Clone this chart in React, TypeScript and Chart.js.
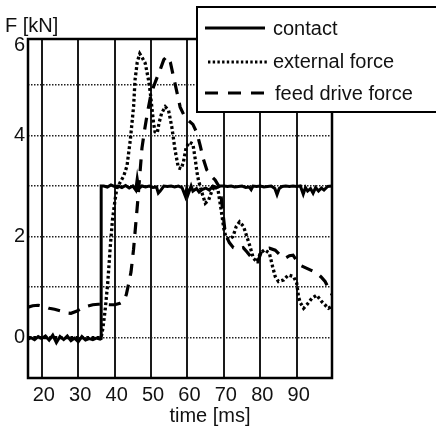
import React, { useEffect, useRef } from "react";
import { Chart, registerables } from "chart.js";

Chart.register(...registerables);

// ---- data ----
const contactTime = [16.2, 17, 18, 19, 20, 21, 22, 23, 24, 25, 26, 27, 28, 29, 30, 31, 32, 33, 34, 35, 36, 36.3, 36.3, 37, 38, 39, 40, 41, 42, 43, 44, 45, 45.8, 46.2, 46.6, 47.5, 48.5, 49.5, 50.5, 51.5, 52, 52.5, 53.5, 54.5, 55.5, 56.5, 57.5, 58.5, 59.4, 59.8, 60.2, 61, 61.5, 62.5, 63.2, 64, 65, 66, 67, 68, 69, 70, 71, 72, 73, 74, 75, 76, 77, 77.5, 78, 79, 80, 81, 82, 83, 84, 84.6, 85.2, 86, 87, 88, 89, 90, 91, 91.8, 92.4, 93, 93.8, 94.5, 95.2, 96, 96.8, 97.5, 98.5, 99.7];
const contactValue = [-0.03, 0.0, -0.04, 0.02, -0.02, 0.03, -0.05, 0.05, -0.1, 0.02, -0.04, 0.03, -0.06, -0.01, -0.08, 0.02, -0.05, -0.02, -0.04, -0.01, -0.03, -0.02, 3.0, 3.0, 2.98, 3.02, 2.99, 3.0, 2.97, 3.01, 2.96, 3.0, 2.92, 3.14, 2.95, 3.0, 2.98, 3.0, 2.97, 2.98, 2.86, 2.9, 3.0, 2.99, 3.0, 2.98, 3.0, 2.97, 2.8, 2.95, 2.84, 3.0, 2.9, 2.95, 2.88, 2.93, 2.96, 2.92, 3.0, 2.97, 3.0, 3.0, 2.99, 3.0, 2.98, 2.99, 3.0, 2.97, 2.98, 2.93, 3.0, 2.99, 3.0, 2.98, 2.99, 3.0, 2.95, 2.83, 2.95, 2.99, 3.0, 2.99, 3.0, 2.99, 3.0, 2.84, 2.97, 2.9, 2.95, 2.86, 2.97, 2.9, 2.96, 2.92, 2.99, 3.0];

const externalTime = [16.2, 36.3, 36.8, 37.4, 38.1, 38.8, 39.4, 40.1, 40.6, 41.5, 42.5, 43.4, 44.3, 45.2, 45.6, 46.2, 46.9, 47.5, 48.4, 49.3, 49.8, 50.2, 50.7, 51.1, 51.7, 52.2, 52.9, 53.9, 54.8, 55.7, 56.6, 57.5, 58.3, 58.9, 59.6, 60.5, 61.5, 62.1, 62.6, 63.0, 64.0, 64.9, 65.8, 66.7, 67.5, 68.4, 69.2, 70.0, 70.6, 71.5, 72.5, 73.4, 74.3, 75.4, 76.3, 77.2, 78.1, 79.1, 80.0, 81.2, 82.5, 83.4, 84.1, 85.0, 86.4, 87.7, 89.1, 90.0, 90.5, 91.0, 91.9, 92.8, 94.2, 95.5, 96.9, 98.7, 99.7];
const externalValue = [0, 0, 0.2, 0.55, 1.08, 1.8, 2.33, 2.72, 2.95, 3.07, 3.2, 3.4, 3.91, 4.57, 5.1, 5.45, 5.62, 5.55, 5.43, 5.1, 4.84, 4.57, 4.24, 4.07, 4.05, 4.25, 4.44, 4.57, 4.5, 4.17, 3.71, 3.36, 3.34, 3.48, 3.75, 3.87, 3.83, 3.55, 3.28, 3.12, 2.86, 2.66, 2.72, 2.9, 3.0, 2.92, 2.55, 2.15, 1.98, 1.95, 2.0, 2.2, 2.29, 2.2, 2.0, 1.8, 1.57, 1.5, 1.67, 1.74, 1.67, 1.4, 1.21, 1.11, 1.14, 1.24, 1.21, 1.08, 0.81, 0.69, 0.58, 0.65, 0.78, 0.84, 0.71, 0.58, 0.62];

const feedTime = [16.2, 17.5, 19, 20.5, 22, 23.5, 25, 26.5, 28, 29.5, 31, 32.5, 34, 35.5, 37, 38.5, 40, 41.5, 42.5, 43.2, 43.8, 44.5, 45.2, 45.8, 46.4, 47.0, 47.5, 48.2, 49.0, 49.8, 50.7, 51.5, 52.5, 53.5, 54.4, 55.3, 56.2, 57.1, 58.0, 59.4, 60.5, 61.5, 62.6, 63.5, 64.3, 65.3, 66.5, 67.6, 69.0, 69.7, 70.4, 71.5, 72.6, 74.0, 75.3, 76.3, 77.2, 78.5, 79.3, 80.5, 82.5, 84.1, 85.5, 86.8, 88.0, 89.0, 90.0, 91.0, 92.5, 93.7, 95.5, 96.7, 97.8, 99.7];
const feedValue = [0.6, 0.63, 0.64, 0.62, 0.58, 0.56, 0.53, 0.49, 0.48, 0.52, 0.58, 0.62, 0.65, 0.66, 0.66, 0.65, 0.65, 0.68, 0.72, 0.85, 1.05, 1.3, 1.75, 2.25, 2.75, 3.3, 3.75, 4.1, 4.45, 4.75, 4.97, 5.12, 5.3, 5.5, 5.57, 5.45, 5.15, 4.86, 4.56, 4.35, 4.28, 4.22, 4.05, 3.8, 3.55, 3.32, 3.2, 3.12, 2.95, 2.5, 2.05, 1.88, 1.78, 1.75, 1.78, 1.7, 1.62, 1.5, 1.5, 1.74, 1.77, 1.73, 1.63, 1.57, 1.62, 1.63, 1.52, 1.43, 1.38, 1.34, 1.28, 1.2, 1.11, 0.85];

const seriesNames = ["contact", "external force", "feed drive force"];
const xTickValues = [20, 30, 40, 50, 60, 70, 80, 90];
const yTickValues = [0, 1, 2, 3, 4, 5, 5.78];
const yTickLabels = ["0", "", "2", "", "4", "", "6"];
const xTitle = "time [ms]";
const yTitle = "F [kN]";

const FONT = '"Liberation Sans", Arial, sans-serif';
const INK = "#111";

const toPoints = (xs: number[], ys: number[]) => xs.map((x, i) => ({ x, y: ys[i] }));

const dotDash = [2.8, 2.5];
const longDash = [12, 9];

const overlayPlugin = {
  id: "overlay",
  afterDraw(chart: any) {
    const { ctx, chartArea: a } = chart;
    ctx.save();
    // frame
    ctx.strokeStyle = "#000";
    ctx.lineWidth = 2.5;
    ctx.setLineDash([]);
    ctx.strokeRect(a.left, a.top, a.right - a.left, a.bottom - a.top);
    // titles
    ctx.fillStyle = INK;
    ctx.font = `20px ${FONT}`;
    ctx.textBaseline = "alphabetic";
    ctx.textAlign = "left";
    ctx.fillText(yTitle, 5, 31.5);
    ctx.textAlign = "center";
    ctx.fillText(xTitle, 210, 422);
    // legend box
    const bx = 197, by = 7, bw = 260, bh = 105;
    ctx.fillStyle = "#fff";
    ctx.fillRect(bx, by, bw, bh);
    ctx.strokeStyle = "#000";
    ctx.lineWidth = 2;
    ctx.strokeRect(bx, by, bw, bh);
    const rows = [
      { y: 28, base: 35, dash: [] as number[], x0: 205, x1: 265, w: 3, tx: 273 },
      { y: 62, base: 68, dash: [2.4, 2.3], x0: 208, x1: 268, w: 2.8, tx: 273 },
      { y: 93, base: 100, dash: [13, 10], x0: 205, x1: 266, w: 3, tx: 275 },
    ];
    rows.forEach((r, i) => {
      ctx.beginPath();
      ctx.strokeStyle = "#000";
      ctx.lineWidth = r.w;
      ctx.setLineDash(r.dash);
      ctx.moveTo(r.x0, r.y);
      ctx.lineTo(r.x1, r.y);
      ctx.stroke();
      ctx.setLineDash([]);
      ctx.fillStyle = INK;
      ctx.textAlign = "left";
      ctx.textBaseline = "alphabetic";
      ctx.fillText(seriesNames[i], r.tx, r.base);
    });
    ctx.restore();
  },
};

export default function App() {
  const ref = useRef<HTMLCanvasElement | null>(null);
  useEffect(() => {
    if (!ref.current) return;
    const chart = new Chart(ref.current, {
      type: "line",
      data: {
        datasets: [
          {
            label: seriesNames[0],
            data: toPoints(contactTime, contactValue),
            borderColor: "#000",
            borderWidth: 3,
            pointRadius: 0,
            tension: 0,
            fill: false,
          },
          {
            label: seriesNames[1],
            data: toPoints(externalTime, externalValue),
            borderColor: "#000",
            borderWidth: 3.3,
            borderDash: dotDash,
            pointRadius: 0,
            tension: 0,
            fill: false,
          },
          {
            label: seriesNames[2],
            data: toPoints(feedTime, feedValue),
            borderColor: "#000",
            borderWidth: 3.2,
            borderDash: longDash,
            pointRadius: 0,
            tension: 0,
            fill: false,
          },
        ],
      },
      options: {
        animation: false,
        responsive: false,
        layout: { padding: { left: 0, top: 39, right: 104, bottom: 0 } },
        plugins: { legend: { display: false }, tooltip: { enabled: false }, title: { display: false } },
        scales: {
          x: {
            type: "linear",
            min: 16.2,
            max: 99.7,
            afterBuildTicks: (s: any) => {
              s.ticks = xTickValues.map((v) => ({ value: v }));
            },
            afterFit: (s: any) => {
              s.height = 60;
            },
            ticks: {
              callback: (v: any) => String(v),
              font: { size: 20, family: FONT, lineHeight: 1.2 },
              color: INK,
              padding: 5,
              labelOffset: 2,
              maxRotation: 0,
              autoSkip: false,
            },
            grid: { color: "#1a1a1a", lineWidth: 2, drawTicks: false },
            border: { display: false },
          },
          y: {
            type: "linear",
            min: -0.8,
            max: 5.91,
            afterBuildTicks: (s: any) => {
              s.ticks = yTickValues.map((v) => ({ value: v }));
            },
            afterFit: (s: any) => {
              s.width = 28;
            },
            ticks: {
              callback: (v: any) => {
                const i = yTickValues.indexOf(v);
                return i >= 0 ? yTickLabels[i] : "";
              },
              font: { size: 20, family: FONT, lineHeight: 1.2 },
              color: INK,
              padding: 3,
              autoSkip: false,
            },
            grid: {
              color: (c: any) => (c.tick && c.tick.value > 5.5 ? "rgba(0,0,0,0)" : "#222"),
              lineWidth: 1.5,
              drawTicks: false,
            },
            border: { display: false, dash: [1.5, 1.5] },
          },
        },
      },
      plugins: [overlayPlugin],
    });
    return () => chart.destroy();
  }, []);
  return (
    <div style={{ position: "absolute", left: 0, top: 0, width: 436, height: 438, background: "#fff" }}>
      <canvas ref={ref} width={436} height={438} style={{ width: 436, height: 438, display: "block" }} />
    </div>
  );
}
